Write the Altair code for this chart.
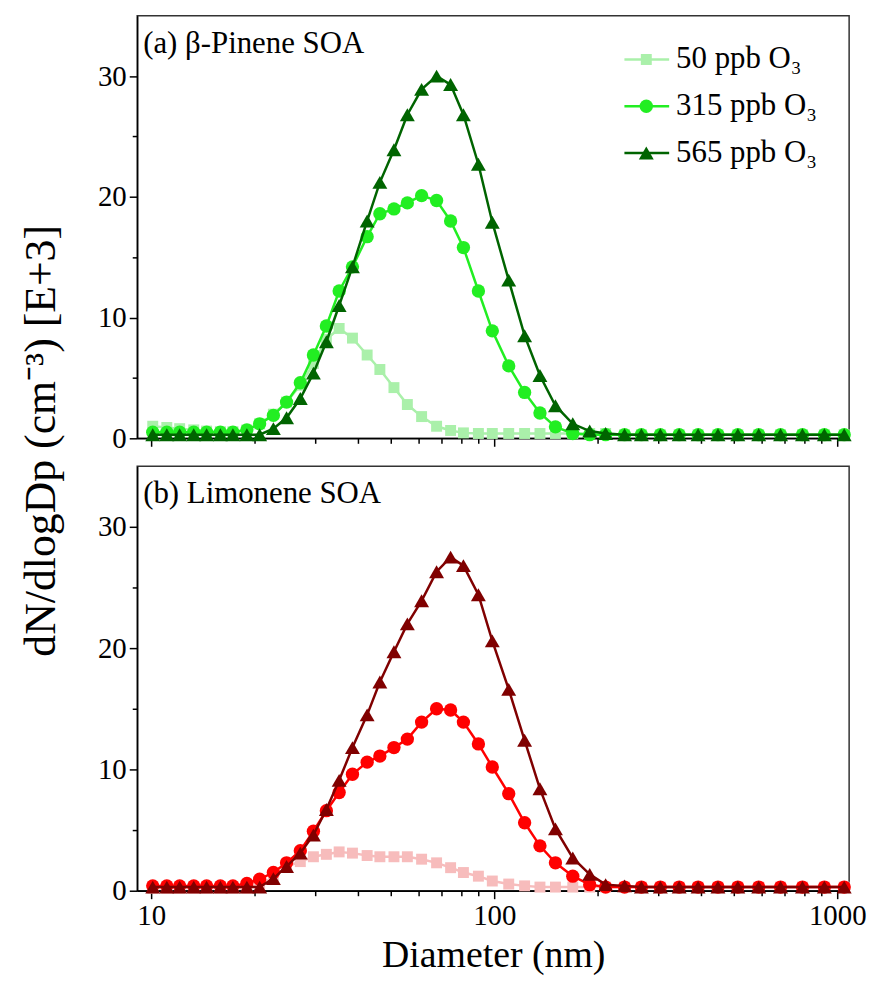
import altair as alt
import pandas as pd

# ---- data ----
diameter = [10.1, 11.1, 12.1, 13.3, 14.5, 15.9, 17.3, 19.0, 20.7, 22.7, 24.8, 27.2, 29.7, 32.4, 35.3,
            38.6, 42.6, 46.4, 51.0, 55.8, 61.4, 67.9, 74.6, 81.3, 89.9, 98.7, 110.2, 122.6, 135.9,
            150.8, 169.4, 189.8, 211.2, 239.8, 268.5, 304.9, 346.0, 392.9, 449.0, 513.1, 590.2,
            683.4, 791.7, 917.1, 1047.8]

pinene_50 = [1.0, 0.9, 0.8, 0.7, 0.6, 0.55, 0.55, 0.7, 1.2, 2.0, 3.0, 4.4, 6.2, 8.2, 9.1, 8.3, 6.9,
             5.7, 4.2, 2.8, 1.8, 1.0, 0.65, 0.45, 0.4, 0.4, 0.4, 0.4, 0.4, 0.4, 0.4, 0.4, 0.4,
             0.3, 0.3, 0.3, 0.3, 0.3, 0.3, 0.3, 0.3, 0.3, 0.3, 0.3, 0.3]
pinene_315 = [0.5, 0.5, 0.5, 0.5, 0.5, 0.5, 0.5, 0.7, 1.2, 1.9, 3.0, 4.6, 6.9, 9.3, 12.2, 14.2, 16.7,
              18.6, 19.0, 19.5, 20.1, 19.7, 18.0, 15.8, 12.2, 8.9, 6.0, 3.8, 2.1, 0.95, 0.4,
              0.3, 0.3, 0.3, 0.3, 0.3, 0.3, 0.3, 0.3, 0.3, 0.3, 0.3, 0.3, 0.3, 0.3]
pinene_565 = [0.3, 0.3, 0.3, 0.3, 0.3, 0.3, 0.3, 0.3, 0.3, 0.8, 1.7, 3.3, 5.4, 8.0, 11.0, 14.2, 18.0,
              21.2, 23.9, 26.8, 28.9, 30.0, 29.3, 26.8, 22.7, 17.9, 13.1, 8.5, 5.2, 2.7, 1.2, 0.6,
              0.4, 0.3, 0.3, 0.3, 0.3, 0.3, 0.3, 0.3, 0.3, 0.3, 0.3, 0.3, 0.3]

limonene_50 = [0.2, 0.2, 0.2, 0.2, 0.2, 0.2, 0.2, 0.2, 0.5, 1.1, 2.0, 2.4, 2.8, 3.0, 3.2, 3.1, 2.9,
               2.8, 2.8, 2.8, 2.6, 2.3, 1.9, 1.5, 1.2, 0.8, 0.55, 0.4, 0.3, 0.3, 0.3, 0.3, 0.3,
               0.3, 0.3, 0.3, 0.3, 0.3, 0.3, 0.3, 0.3, 0.3, 0.3, 0.3, 0.3]
limonene_315 = [0.4, 0.4, 0.4, 0.4, 0.4, 0.4, 0.4, 0.6, 0.95, 1.5, 2.3, 3.3, 4.9, 6.6, 8.1, 9.6, 10.6,
                11.1, 11.8, 12.5, 13.9, 15.0, 14.9, 13.9, 12.1, 10.2, 8.0, 5.6, 3.7, 2.3, 1.2, 0.5,
                0.3, 0.3, 0.3, 0.3, 0.3, 0.3, 0.3, 0.3, 0.3, 0.3, 0.3, 0.3, 0.3]
limonene_565 = [0.3, 0.3, 0.3, 0.3, 0.3, 0.3, 0.3, 0.3, 0.3, 1.0, 2.0, 3.1, 4.6, 6.7, 9.1, 11.8, 14.5,
                17.2, 19.7, 22.0, 23.9, 26.3, 27.5, 26.8, 24.4, 20.6, 16.6, 12.4, 8.4, 5.1, 2.7, 1.35,
                0.5, 0.4, 0.3, 0.3, 0.3, 0.3, 0.3, 0.3, 0.3, 0.3, 0.3, 0.3, 0.3]

series_labels = ["50 ppb O\u2083", "315 ppb O\u2083", "565 ppb O\u2083"]
pinene_colors = ["#aaf0aa", "#22ee22", "#006400"]
limonene_colors = ["#f7bcbc", "#ff0000", "#800000"]
shapes = ["square", "circle", "triangle-up"]
sizes = [121, 180, 225]

x_tick_values = [10, 20, 30, 40, 50, 60, 70, 80, 90, 100, 200, 300, 400, 500, 600, 700, 800, 900, 1000]
y_tick_values = [0, 5, 10, 15, 20, 25, 30]

for s in [pinene_50, pinene_315, pinene_565, limonene_50, limonene_315, limonene_565]:
    assert len(s) == len(diameter)

FONT = "Liberation Serif"
W = 716
X_MAJOR = "datum.value == 10 || datum.value == 100 || datum.value == 1000"


def make_panel(values, colors, label, bottom, legend, height):
    x_axis = alt.Axis(
        values=x_tick_values, format="d", labels=bottom,
        labelExpr=f"({X_MAJOR}) ? datum.label : ''",
        tickSize={"condition": {"test": X_MAJOR, "value": 8}, "value": 5},
        title="Diameter (nm)" if bottom else None,
        grid=False, labelFlush=False, labelOverlap=False, labelPadding=3,
        titlePadding=6,
    )
    if bottom:
        y_extra = {"title": None}
    else:
        y_extra = dict(title="dN/dlogDp (cm\u207b\u00b3) [E+3]", titleX=-96, titleY=427,
                       titleAngle=270, titleAlign="center", titleBaseline="middle",
                       titleFontSize=44)
    y_axis = alt.Axis(
        values=y_tick_values,
        labelExpr="datum.value % 10 == 0 ? datum.label : ''",
        tickSize={"condition": {"test": "datum.value % 10 == 0", "value": 8}, "value": 5},
        grid=False, labelOverlap=False, labelFlush=False, labelPadding=3,
        **y_extra,
    )
    X = alt.X("d:Q", scale=alt.Scale(type="log", domain=[9.1, 1083], nice=False), axis=x_axis)
    Y = alt.Y("v:Q", scale=alt.Scale(domain=[0, 35], nice=False), axis=y_axis)

    layers = []
    for vals, col, shp, sz in zip(values, colors, shapes, sizes):
        df = pd.DataFrame({"d": diameter, "v": vals})
        base = alt.Chart(df)
        layers.append(base.mark_line(color=col, strokeWidth=2.5).encode(x=X, y=Y))
        layers.append(base.mark_point(filled=True, opacity=1, shape=shp, size=sz, color=col)
                      .encode(x=X, y=Y))

    layers.append(
        alt.Chart(pd.DataFrame({"t": [label]}))
        .mark_text(align="left", baseline="middle", font=FONT, fontSize=31, color="black")
        .encode(text="t:N", x=alt.value(6), y=alt.value(28))
    )

    if legend:
        for i, (lab, col, shp, sz) in enumerate(zip(series_labels, colors, shapes, sizes)):
            yy = 44 + 47 * i
            ldf = pd.DataFrame({"t": [lab]})
            lb = alt.Chart(ldf)
            layers.append(lb.mark_rule(color=col, strokeWidth=2.5)
                          .encode(x=alt.value(490), x2=alt.value(535), y=alt.value(yy)))
            layers.append(lb.mark_point(filled=True, opacity=1, shape=shp, size=sz, color=col)
                          .encode(x=alt.value(512), y=alt.value(yy)))
            layers.append(lb.mark_text(align="left", baseline="middle", font=FONT, fontSize=31,
                                       color="black")
                          .encode(text="t:N", x=alt.value(542), y=alt.value(yy)))

    return alt.layer(*layers).properties(width=W, height=height)


panel_a = make_panel([pinene_50, pinene_315, pinene_565], pinene_colors,
                     "(a) \u03b2-Pinene SOA", bottom=False, legend=True, height=425)
panel_b = make_panel([limonene_50, limonene_315, limonene_565], limonene_colors,
                     "(b) Limonene SOA", bottom=True, legend=False, height=427)

chart = (
    alt.vconcat(panel_a, panel_b, spacing=28, bounds="flush")
    .properties(padding={"left": 19, "top": 12, "right": 5, "bottom": 10}, background="white")
    .configure_view(stroke="#333333", strokeWidth=1.5)
    .configure_axis(
        labelFont=FONT, titleFont=FONT, labelFontSize=29, titleFontSize=38,
        labelColor="black", titleColor="black", titleFontWeight="normal",
        domainColor="black", tickColor="black", domainWidth=1.5, tickWidth=1.5,
    )
)

chart.save("out.html", embed_options={"renderer": "svg", "actions": False})
